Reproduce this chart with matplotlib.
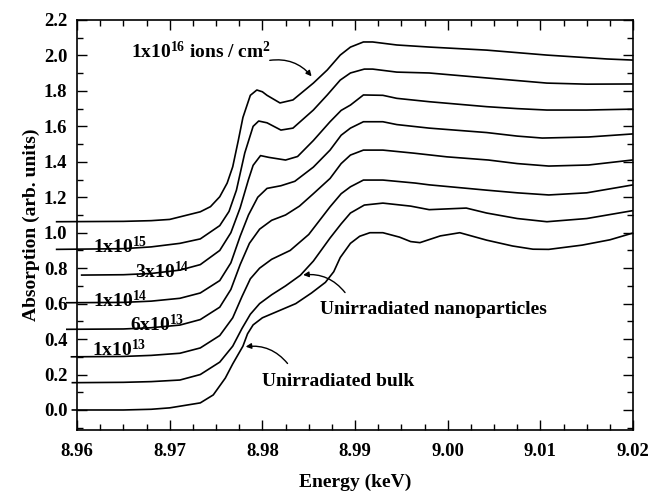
import numpy as np
import matplotlib
matplotlib.use('Agg')
import matplotlib.pyplot as plt
from matplotlib.ticker import MultipleLocator

plt.rcParams['font.family'] = 'Liberation Serif'
plt.rcParams['font.weight'] = 'bold'
plt.rcParams['mathtext.fontset'] = 'custom'
plt.rcParams['mathtext.rm'] = 'Liberation Serif:bold'
plt.rcParams['mathtext.bf'] = 'Liberation Serif:bold'
plt.rcParams['mathtext.default'] = 'rm'

# energy (keV) / absorption pairs, bottom curve first
E_bulk = [8.9595, 8.965, 8.968, 8.970, 8.9733, 8.9747, 8.976, 8.9768, 8.9779, 8.9784, 8.979, 8.980, 8.9818,
          8.9836, 8.9853, 8.9868, 8.9877, 8.9884, 8.9895, 8.9905, 8.9916, 8.993, 8.9948, 8.996, 8.997,
          8.9992, 9.0013, 9.0042, 9.0070, 9.0092, 9.0109, 9.0145, 9.0175, 9.0199]
A_bulk = [0.0, 0.0, 0.004, 0.012, 0.04, 0.085, 0.18, 0.26, 0.36, 0.43, 0.48, 0.52, 0.56,
          0.60, 0.66, 0.72, 0.78, 0.86, 0.94, 0.98, 1.0, 1.0, 0.975, 0.95, 0.944,
          0.982, 1.0, 0.958, 0.925, 0.907, 0.906, 0.93, 0.96, 0.997]

E_nano = [8.9595, 8.965, 8.968, 8.9711, 8.9733, 8.9754, 8.9768, 8.9778, 8.9787, 8.9797, 8.981, 8.9825,
          8.9841, 8.9855, 8.9873, 8.9885, 8.9895, 8.991, 8.993, 8.996, 8.998, 9.002, 9.0042,
          9.0075, 9.0107, 9.015, 9.0199]
A_nano = [0.154, 0.156, 0.160, 0.169, 0.20, 0.27, 0.36, 0.46, 0.54, 0.60, 0.65, 0.70,
          0.76, 0.84, 0.97, 1.05, 1.111, 1.156, 1.167, 1.15, 1.13, 1.139, 1.111,
          1.08, 1.062, 1.08, 1.124]

E_13 = [8.9594, 8.965, 8.968, 8.9711, 8.9733, 8.9754, 8.9768, 8.9778, 8.9787, 8.9797, 8.981, 8.983,
        8.985, 8.9873, 8.9885, 8.9895, 8.9909, 8.993, 8.9965, 8.998, 9.0042, 9.0075, 9.0109,
        9.015, 9.0199]
A_13 = [0.30, 0.302, 0.308, 0.32, 0.35, 0.42, 0.52, 0.64, 0.74, 0.80, 0.85, 0.90,
        0.99, 1.146, 1.22, 1.259, 1.297, 1.297, 1.28, 1.27, 1.24, 1.225, 1.213,
        1.225, 1.269]

E_6_13 = [8.9589, 8.965, 8.968, 8.9711, 8.9733, 8.9754, 8.9766, 8.9776, 8.9786, 8.9797, 8.981, 8.9825,
          8.984, 8.9855, 8.9873, 8.9885, 8.9895, 8.9909, 8.993, 8.9963, 8.9999, 9.0044, 9.0075,
          9.0109, 9.0152, 9.0199]
A_6_13 = [0.455, 0.457, 0.464, 0.479, 0.51, 0.58, 0.68, 0.82, 0.94, 1.02, 1.07, 1.10,
          1.15, 1.22, 1.306, 1.39, 1.438, 1.466, 1.466, 1.449, 1.428, 1.41, 1.39,
          1.376, 1.382, 1.410]

E_14 = [8.9589, 8.965, 8.968, 8.9711, 8.9733, 8.9754, 8.9766, 8.9776, 8.9785, 8.9795, 8.9805, 8.982,
        8.9835, 8.9855, 8.9873, 8.9885, 8.9895, 8.9909, 8.993, 8.9945, 8.998, 9.0042, 9.0075,
        9.0102, 9.0152, 9.0199]
A_14 = [0.605, 0.607, 0.614, 0.63, 0.66, 0.73, 0.83, 0.98, 1.10, 1.20, 1.25, 1.265,
        1.29, 1.37, 1.466, 1.55, 1.59, 1.626, 1.626, 1.61, 1.59, 1.565, 1.545,
        1.534, 1.540, 1.557]

E_3_14 = [8.9605, 8.965, 8.968, 8.9711, 8.9733, 8.9754, 8.9766, 8.9776, 8.9785, 8.979, 8.9798, 8.9807,
          8.9825, 8.9838, 8.9855, 8.9873, 8.9885, 8.9895, 8.9909, 8.993, 8.9945, 8.998, 9.0042,
          9.0075, 9.0107, 9.0150, 9.0199]
A_3_14 = [0.761, 0.763, 0.770, 0.789, 0.82, 0.90, 1.00, 1.14, 1.30, 1.38, 1.435, 1.425,
          1.41, 1.43, 1.52, 1.626, 1.69, 1.72, 1.777, 1.775, 1.758, 1.739, 1.711,
          1.70, 1.692, 1.692, 1.697]

E_15 = [8.9578, 8.965, 8.968, 8.9711, 8.9733, 8.9754, 8.9764, 8.9772, 8.9781, 8.979, 8.9796, 8.9805,
        8.982, 8.9833, 8.9855, 8.987, 8.9884, 8.9895, 8.991, 8.9919, 8.9945, 8.998, 9.0042,
        9.0107, 9.0150, 9.0199]
A_15 = [0.906, 0.91, 0.92, 0.94, 0.965, 1.04, 1.12, 1.24, 1.45, 1.60, 1.630, 1.62,
        1.579, 1.59, 1.692, 1.777, 1.861, 1.901, 1.923, 1.923, 1.906, 1.901, 1.873,
        1.844, 1.838, 1.839]

E_16 = [8.9578, 8.965, 8.968, 8.970, 8.9733, 8.9744, 8.9754, 8.9762, 8.9768, 8.9774, 8.9779, 8.9787,
        8.9794, 8.980, 8.9805, 8.9819, 8.9833, 8.9855, 8.987, 8.9884, 8.9895, 8.9909, 8.9919,
        8.9945, 8.9981, 9.0042, 9.0107, 9.0172, 9.0199]
A_16 = [1.062, 1.064, 1.068, 1.075, 1.118, 1.147, 1.203, 1.28, 1.372, 1.52, 1.65, 1.775,
        1.805, 1.795, 1.775, 1.732, 1.749, 1.844, 1.918, 2.002, 2.047, 2.076, 2.076,
        2.059, 2.047, 2.030, 2.002, 1.980, 1.974]

curves = [(E_bulk, A_bulk), (E_nano, A_nano), (E_13, A_13), (E_6_13, A_6_13),
          (E_14, A_14), (E_3_14, A_3_14), (E_15, A_15), (E_16, A_16)]

fig = plt.figure(figsize=(6.5, 4.91), dpi=100)
ax = fig.add_axes([0.1185, 0.1242, 0.8555, 0.8351])

for e, a in curves:
    ax.plot(e, a, color='black', lw=1.2, clip_on=False, zorder=2)

ax.set_xlim(8.96, 9.02)
ax.set_ylim(-0.113, 2.2)
ax.xaxis.set_major_locator(MultipleLocator(0.01))
ax.xaxis.set_minor_locator(MultipleLocator(0.0025))
ax.yaxis.set_major_locator(MultipleLocator(0.2))
ax.yaxis.set_minor_locator(MultipleLocator(0.1))
ax.xaxis.set_major_formatter(plt.FormatStrFormatter('%.2f'))
ax.yaxis.set_major_formatter(plt.FormatStrFormatter('%.1f'))
ax.tick_params(which='both', direction='in', top=True, right=True, width=1.0, labelsize=13.5)
ax.tick_params(which='major', length=7)
ax.tick_params(which='minor', length=4)
ax.tick_params(axis='x', pad=9)
ax.tick_params(axis='y', pad=7)
for s in ax.spines.values():
    s.set_linewidth(1.2)

ax.set_ylabel('Absorption (arb. units)', fontsize=14, fontweight='bold', labelpad=3)
fig.text(0.5462, 0.008, 'Energy (keV)', fontsize=14, fontweight='bold', ha='center', va='baseline')

fs = 14
ax.text(8.9658, 2.02, r'1x10$^{16}$ ions / cm$^{2}$', fontsize=fs, fontweight='bold', va='center')
ax.text(8.9617, 0.925, r'1x10$^{15}$', fontsize=fs, fontweight='bold', va='center')
ax.text(8.9663, 0.78, r'3x10$^{14}$', fontsize=fs, fontweight='bold', va='center')
ax.text(8.9617, 0.62, r'1x10$^{14}$', fontsize=fs, fontweight='bold', va='center')
ax.text(8.9657, 0.48, r'6x10$^{13}$', fontsize=fs, fontweight='bold', va='center')
ax.text(8.9616, 0.34, r'1x10$^{13}$', fontsize=fs, fontweight='bold', va='center')
ax.text(8.9862, 0.565, 'Unirradiated nanoparticles', fontsize=fs, fontweight='bold', va='center')
ax.text(8.980, 0.16, 'Unirradiated bulk', fontsize=fs, fontweight='bold', va='center')

arw = dict(arrowstyle='-|>', color='black', lw=1.0, mutation_scale=8)
ax.annotate('', xy=(8.9855, 1.87), xytext=(8.9805, 1.97),
            arrowprops=dict(connectionstyle='arc3,rad=-0.3', **arw))
ax.annotate('', xy=(8.9841, 0.76), xytext=(8.9891, 0.65),
            arrowprops=dict(connectionstyle='arc3,rad=0.3', **arw))
ax.annotate('', xy=(8.9779, 0.355), xytext=(8.9829, 0.25),
            arrowprops=dict(connectionstyle='arc3,rad=0.3', **arw))

fig.savefig('out.png', dpi=100)
